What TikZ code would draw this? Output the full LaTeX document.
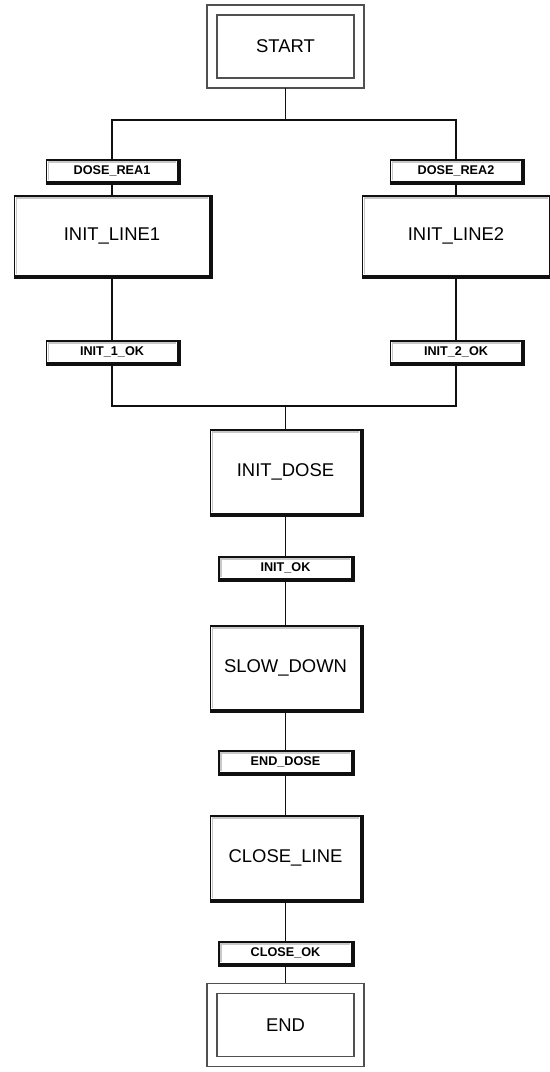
\documentclass[tikz,border=0pt]{standalone}
\usepackage{fontspec}
\setmainfont{Liberation Sans}
\usetikzlibrary{positioning,calc}
\definecolor{sfcBlack}{HTML}{101010}
\definecolor{sfcGray}{HTML}{C8C8C8}
\definecolor{sfcDark}{HTML}{505050}

\begin{document}
\begin{tikzpicture}[x=0.02cm,y=-0.02cm,
  stepbox/.style={draw=sfcBlack,line width=0.7pt,fill=white,minimum width=3cm,minimum height=1.68cm,
    font=\fontsize{10.5}{12}\selectfont,inner sep=0pt},
  widebox/.style={stepbox,minimum width=3.9cm,minimum height=1.6cm},
  initbox/.style={draw=sfcDark,line width=0.8pt,double=white,double distance=0.17cm,fill=white,
    minimum width=2.94cm,minimum height=1.46cm,font=\fontsize{10.5}{12}\selectfont,inner sep=0pt,
    outer sep=0.11cm},
  transbox/.style={draw=sfcBlack,line width=0.6pt,fill=white,minimum width=2.62cm,minimum height=0.44cm,
    font=\fontsize{7.2}{8}\bfseries\selectfont,inner sep=0pt},
  link/.style={draw=sfcBlack,line width=0.7pt}]
  \useasboundingbox (0,0) rectangle (550,1072);
  % ---- Initial step ----
  \node[initbox] (start) at (285.5,46.5) {START};
  \coordinate (splitTop) at (285.5,120);
  % ---- Line 1 ----
  \node[transbox] (doseA) at (112,171) {DOSE\_REA1};
  \node[widebox] (lineA) at (112,236) {INIT\_LINE1};
  \node[transbox] (okA) at (112,352) {INIT\_1\_OK};
  % ---- Line 2 ----
  \node[transbox] (doseB) at (456,171) {DOSE\_REA2};
  \node[widebox,minimum width=3.74cm] (lineB) at (456,236) {INIT\_LINE2};
  \node[transbox] (okB) at (456,352) {INIT\_2\_OK};
  \coordinate (joinBot) at (285.5,406);
  % ---- Main sequence ----
  \node[stepbox] (initDose) at (285.5,472) {INIT\_DOSE};
  \node[transbox,minimum width=2.66cm] (initOk) at (285.5,568) {INIT\_OK};
  \node[stepbox] (slowDown) at (285.5,668) {SLOW\_DOWN};
  \node[transbox,minimum width=2.66cm] (endDose) at (285.5,762) {END\_DOSE};
  \node[stepbox] (closeLine) at (285.5,858) {CLOSE\_LINE};
  \node[transbox,minimum width=2.66cm] (closeOk) at (285.5,953) {CLOSE\_OK};
  \node[initbox] (stop) at (285.5,1025) {END};
  % ---- Links ----
  \draw[link] (start) -- (splitTop);
  \draw[link] (doseA) |- (splitTop) -| (doseB);
  \draw[link] (doseA) -- (lineA);
  \draw[link] (lineA) -- (okA);
  \draw[link] (doseB) -- (lineB);
  \draw[link] (lineB) -- (okB);
  \draw[link] (okA) |- (joinBot) -| (okB);
  \draw[link] (joinBot) -- (initDose);
  \draw[link] (initDose) -- (initOk);
  \draw[link] (initOk) -- (slowDown);
  \draw[link] (slowDown) -- (endDose);
  \draw[link] (endDose) -- (closeLine);
  \draw[link] (closeLine) -- (closeOk);
  \draw[link] (closeOk) -- (stop);
  % ---- Relief: light edge top/left, shadow bottom/right ----
  \foreach \n in {doseA,lineA,okA,doseB,lineB,okB,initDose,initOk,slowDown,endDose,closeLine,closeOk}{
    \draw[sfcGray,line width=1pt] ([shift={(2.5,-2.5)}]\n.south west) -- ([shift={(2.5,2.5)}]\n.north west)
      -- ([shift={(-2.5,2.5)}]\n.north east);
    \draw[sfcBlack,line width=1.8pt] ([shift={(1.2,0)}]\n.north east) -- ([shift={(1.2,1.2)}]\n.south east)
      -- ([shift={(0,1.2)}]\n.south west);
  }
\end{tikzpicture}
\end{document}
